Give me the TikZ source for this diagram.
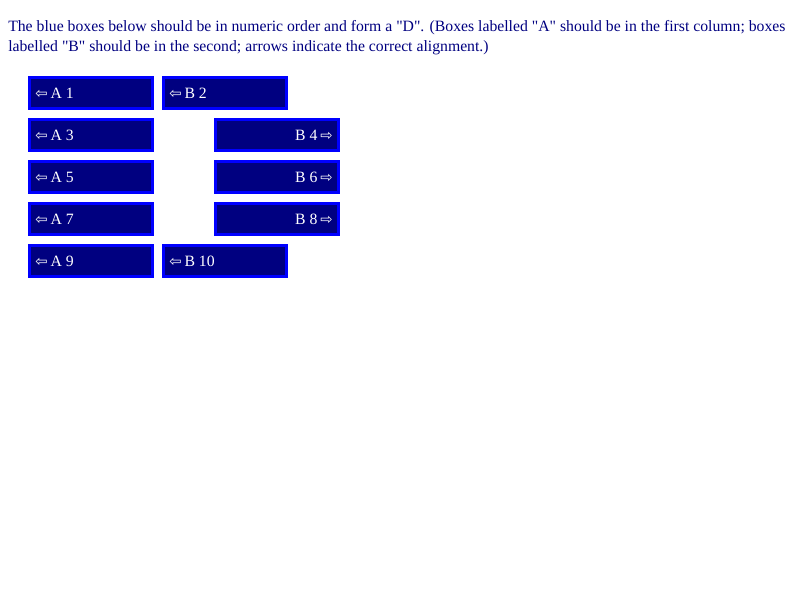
\documentclass[tikz,border=0pt]{standalone}
\usepackage{fontspec}
\newfontfamily\serifplain{Liberation Serif}
\newfontfamily\arrowfont{DejaVu Sans}
\definecolor{navytxt}{HTML}{000080}
\definecolor{boxfill}{HTML}{000080}
\definecolor{boxedge}{HTML}{0000FF}
\newcommand{\LA}{{\arrowfont\fontsize{11}{12}\selectfont ⇦}}
\newcommand{\RA}{{\arrowfont\fontsize{11}{12}\selectfont ⇨}}
\begin{document}
\begin{tikzpicture}[x=0.75pt,y=-0.75pt,
  boxnode/.style={draw=boxedge,fill=boxfill,line width=2.25pt,minimum width=92.25pt,minimum height=23.25pt,inner sep=0pt,anchor=north west},
  lbl/.style={text=white,font=\serifplain\fontsize{11.8}{14}\selectfont,inner sep=0pt},
  hdr/.style={text=navytxt,font=\serifplain\fontsize{11.8}{15}\selectfont,inner sep=0pt,anchor=base west}]
\useasboundingbox (0,0) rectangle (800,600);
\node[hdr] (h1) at (8,31) {The blue boxes below should be in numeric order and form a "D". (Boxes labelled "A" should be in the first column; boxes};
\node[hdr] (h2) at (8,51) {labelled "B" should be in the second; arrows indicate the correct alignment.)};
\node[boxnode] (a1) at (28,76) {};
\node[boxnode] (a3) at (28,118) {};
\node[boxnode] (a5) at (28,160) {};
\node[boxnode] (a7) at (28,202) {};
\node[boxnode] (a9) at (28,244) {};
\node[boxnode] (b2) at (162,76) {};
\node[boxnode] (b4) at (214,118) {};
\node[boxnode] (b6) at (214,160) {};
\node[boxnode] (b8) at (214,202) {};
\node[boxnode] (b10) at (162,244) {};
\node[lbl,anchor=base west] (ta1) at (35,98) {\LA\hspace{2.25pt}A 1};
\node[lbl,anchor=base west] (ta3) at (35,140) {\LA\hspace{2.25pt}A 3};
\node[lbl,anchor=base west] (ta5) at (35,182) {\LA\hspace{2.25pt}A 5};
\node[lbl,anchor=base west] (ta7) at (35,224) {\LA\hspace{2.25pt}A 7};
\node[lbl,anchor=base west] (ta9) at (35,266) {\LA\hspace{2.25pt}A 9};
\node[lbl,anchor=base west] (tb2) at (169,98) {\LA\hspace{2.25pt}B 2};
\node[lbl,anchor=base west] (tb10) at (169,266) {\LA\hspace{2.25pt}B 10};
\node[lbl,anchor=base east] (tb4) at (333,140) {B 4\hspace{2.25pt}\RA};
\node[lbl,anchor=base east] (tb6) at (333,182) {B 6\hspace{2.25pt}\RA};
\node[lbl,anchor=base east] (tb8) at (333,224) {B 8\hspace{2.25pt}\RA};
\end{tikzpicture}
\end{document}
